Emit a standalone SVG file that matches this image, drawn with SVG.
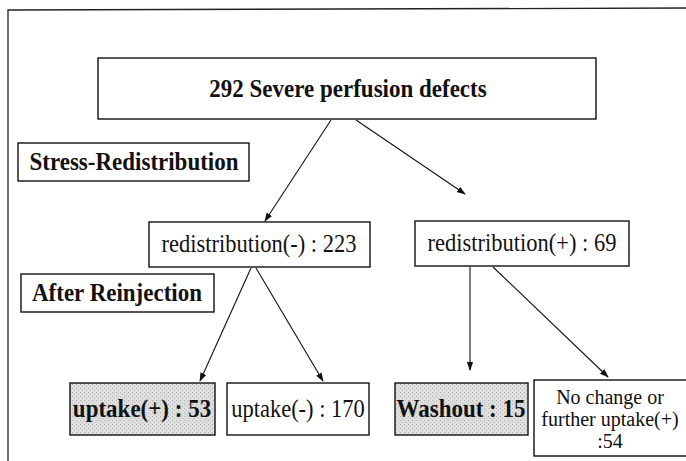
<svg xmlns="http://www.w3.org/2000/svg" width="686" height="461" viewBox="0 0 686 461">
  <defs>
    <style>
      .box { fill: #ffffff; stroke: #111; stroke-width: 1.4; }
      .shade { fill: url(#stipple); stroke: #111; stroke-width: 1.4; }
      .lbl { font-family: "Liberation Serif", "Times New Roman", serif; fill: #111; text-anchor: middle; }
      .b { font-weight: bold; font-size: 23px; }
      .n { font-size: 22.5px; }
      .small { font-size: 20px; }
      .edge { stroke: #111; stroke-width: 1.1; fill: none; marker-end: url(#arrow); }
      .frame { stroke: #222; stroke-width: 1.3; fill: none; }
    </style>
    <!-- light grey stipple used for the highlighted result boxes -->
    <pattern id="stipple" width="4" height="4" patternUnits="userSpaceOnUse">
      <rect width="4" height="4" fill="#dedede"/>
      <rect x="0" y="0" width="1" height="1" fill="#b0b0b0"/>
      <rect x="2" y="2" width="1" height="1" fill="#c0c0c0"/>
    </pattern>
    <marker id="arrow" viewBox="0 0 10 10" refX="9" refY="5" markerWidth="9" markerHeight="9" orient="auto" markerUnits="userSpaceOnUse">
      <path d="M0,1.5 L10,5 L0,8.5 z" fill="#111"/>
    </marker>
  </defs>

  <rect width="686" height="461" fill="#ffffff"/>

  <!-- page frame -->
  <path class="frame" d="M8,461 L8,10 L686,8"/>

  <!-- connectors -->
  <g id="connectors">
    <line class="edge" x1="331" y1="120" x2="265" y2="221"/>
    <line class="edge" x1="356" y1="120" x2="465" y2="194"/>
    <line class="edge" x1="251" y1="268" x2="200" y2="381"/>
    <line class="edge" x1="256" y1="268" x2="323" y2="381"/>
    <line class="edge" x1="470" y1="267" x2="470" y2="370"/>
    <line class="edge" x1="493" y1="267" x2="608" y2="377"/>
  </g>

  <!-- single-line labels are drawn slightly tall, as in the printed figure -->
  <g id="root">
    <rect class="box" x="98" y="58" width="498" height="61"/>
    <text class="lbl b" font-size="22.5" transform="translate(348 97) scale(1 1.12)">292 Severe perfusion defects</text>
  </g>

  <g id="stage-stress">
    <rect class="box" x="18" y="143" width="231" height="38"/>
    <text class="lbl b" transform="translate(134 170) scale(1 1.12)">Stress-Redistribution</text>
  </g>

  <g id="stage-reinjection">
    <rect class="box" x="21" y="274" width="193" height="38"/>
    <text class="lbl b" transform="translate(117 301) scale(1 1.12)">After Reinjection</text>
  </g>

  <g id="redist-neg">
    <rect class="box" x="149" y="222" width="221" height="45"/>
    <text class="lbl n" transform="translate(259 252) scale(1 1.12)">redistribution(-) : 223</text>
  </g>

  <g id="redist-pos">
    <rect class="box" x="415" y="221" width="214" height="45"/>
    <text class="lbl n" transform="translate(522 251) scale(1 1.12)">redistribution(+) : 69</text>
  </g>

  <g id="uptake-pos">
    <rect class="shade" x="70" y="383" width="145" height="52"/>
    <text class="lbl b" transform="translate(142 417) scale(1 1.12)">uptake(+) : 53</text>
  </g>

  <g id="uptake-neg">
    <rect class="box" x="227" y="383" width="142" height="52"/>
    <text class="lbl n" transform="translate(298 417) scale(1 1.12)">uptake(-) : 170</text>
  </g>

  <g id="washout">
    <rect class="shade" x="395" y="383" width="133" height="52"/>
    <text class="lbl b" transform="translate(461 417) scale(1 1.12)">Washout : 15</text>
  </g>

  <g id="no-change">
    <rect class="box" x="534" y="380" width="160" height="76"/>
    <text class="lbl small" x="610" y="404">No change or</text>
    <text class="lbl small" x="610" y="426">further uptake(+)</text>
    <text class="lbl small" x="610" y="448">:54</text>
  </g>
</svg>
